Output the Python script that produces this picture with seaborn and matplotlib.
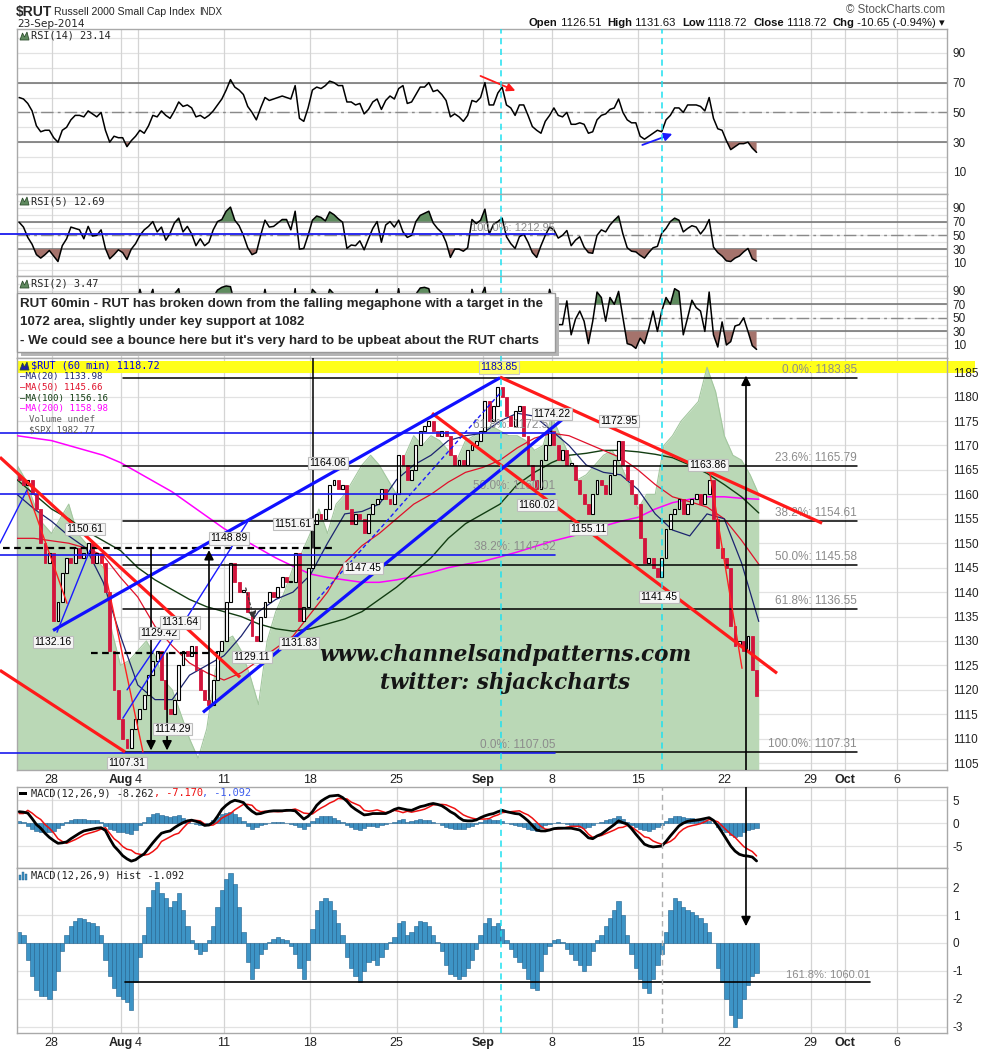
import numpy as np
import matplotlib
matplotlib.use("Agg")
import matplotlib.pyplot as plt
import matplotlib.transforms as mtransforms
from matplotlib.patches import Rectangle, Polygon
import seaborn as sns

# ---------------- values ----------------
# hourly RUT closes, sampled 4 per trading day (Jul 24 .. Sep 23)
closes = [
    1163, 1162, 1163, 1160,  1157, 1150, 1146, 1148,  1134, 1138, 1144, 1147,
    1146, 1149, 1147, 1148,  1150, 1146, 1148, 1146,  1140, 1128, 1120, 1114,
    1110, 1108, 1112, 1114,  1116, 1119, 1123, 1126,  1128, 1122, 1116, 1115,
    1118, 1125, 1128, 1127,  1129, 1124, 1120, 1118,  1117, 1122, 1128, 1130,
    1138, 1146, 1142, 1140,  1140, 1136, 1131, 1130,  1135, 1138, 1140, 1139,
    1141, 1143, 1142, 1142,  1148, 1134, 1137, 1145,  1154, 1156, 1155, 1157,
    1162, 1163, 1161, 1162,  1157, 1154, 1156, 1155,  1152, 1156, 1158, 1159,
    1161, 1159, 1158, 1160,  1168, 1166, 1163, 1165,  1170, 1173, 1174, 1175,
    1173, 1172, 1173, 1172,  1168, 1166, 1167, 1166,  1169, 1170, 1171, 1173,
    1179, 1175, 1178, 1182,  1180, 1176, 1174, 1177,  1178, 1172, 1166, 1163,
    1161, 1167, 1170, 1173,  1170, 1167, 1169, 1166,  1166, 1163, 1160, 1158,
    1156, 1160, 1163, 1162,  1160, 1164, 1167, 1171,  1166, 1163, 1160, 1158,
    1151, 1146, 1147, 1145,  1143, 1147, 1153, 1156,  1157, 1159, 1156, 1158,
    1159, 1160, 1158, 1160,  1163, 1155, 1149, 1147,  1145, 1133, 1129, 1130,
    1128, 1131, 1124, 1118.72,
]
first_open = 1164

# $SPX overlay (drawn on the price scale), 2 per day
spx_area = [
    1166, 1163, 1158, 1154, 1152, 1155, 1158, 1152, 1150, 1147,
    1145, 1132, 1125, 1126, 1128, 1130, 1127, 1122, 1120, 1115,
    1110, 1106, 1112, 1124, 1130, 1131, 1128, 1123, 1117, 1130,
    1136, 1140, 1145, 1148, 1152, 1157, 1152, 1158, 1160, 1163,
    1166, 1168, 1166, 1163, 1160, 1168, 1172, 1170, 1172, 1171,
    1169, 1167, 1171, 1172, 1173, 1174, 1173, 1172, 1172, 1171,
    1169, 1170, 1176, 1172, 1168, 1163, 1164, 1166, 1168, 1169,
    1166, 1162, 1157, 1160, 1160, 1170, 1172, 1175, 1177, 1179,
    1186, 1181, 1172, 1168, 1167, 1164, 1160,
]

# moving averages, one value per trading-day boundary
ma20 = [1160, 1157, 1154.5, 1151.5, 1149, 1142, 1131, 1121, 1118, 1118,
        1123, 1125, 1127, 1131, 1136, 1138.5, 1140, 1143.5, 1150, 1156,
        1156.5, 1158, 1163, 1166, 1168, 1171, 1172, 1172.5, 1175, 1176.6,
        1176, 1173, 1170, 1166, 1164.5, 1164, 1161, 1156, 1152.7, 1151.5,
        1156, 1155, 1146, 1134]
ma50 = [1151, 1151, 1150.5, 1150, 1149, 1147.5, 1143, 1139, 1133, 1129,
        1125.5, 1123.5, 1122, 1123.5, 1126, 1128.5, 1131, 1135.5, 1140, 1146,
        1149.5, 1152, 1155, 1158, 1160, 1162.5, 1164.5, 1165.5, 1167, 1169.5,
        1171.5, 1172.5, 1172, 1170.5, 1169, 1167.5, 1165, 1162, 1159.5, 1158.5,
        1157.4, 1155, 1150.6, 1145.7]
ma100 = [1163, 1160, 1157, 1155, 1152.5, 1150.5, 1148.5, 1145, 1142.5, 1140.5,
         1138.5, 1137, 1136, 1135, 1133.5, 1132.5, 1132, 1132.5, 1133.5, 1134.5,
         1136, 1138.5, 1141, 1144, 1147, 1151, 1154, 1156, 1158, 1162,
         1164.5, 1166.5, 1168, 1168.4, 1169, 1169, 1168.7, 1168.2, 1167.5, 1166,
         1164.3, 1162, 1159.5, 1156.2]
ma200 = [1172, 1171.5, 1171, 1170, 1169, 1168, 1166.5, 1164.5, 1162.5, 1160.5,
         1158, 1155.5, 1153, 1151, 1149, 1147, 1145.3, 1143.7, 1143, 1142.5,
         1142, 1142, 1142.5, 1143.2, 1144, 1145, 1145.7, 1146.3, 1147.2, 1148.2,
         1149.3, 1150.4, 1151.3, 1152.2, 1153.5, 1154.5, 1155.3, 1157, 1158.3, 1159,
         1159.5, 1159.5, 1159.2, 1159]

rsi14 = [60, 59, 56, 51, 41, 37, 38, 38, 33, 30,
         38, 40, 45, 48, 48, 47, 51, 49, 47, 50,
         38, 30, 34, 33, 33, 27, 31, 34, 38, 36,
         41, 48, 47, 51, 48, 46, 51, 57, 54, 55,
         53, 47, 48, 46, 48, 51, 55, 59, 65, 72,
         67, 65, 62, 54, 50, 45, 53, 60, 58, 59,
         60, 61, 60, 59, 68, 46, 44, 53, 65, 67,
         66, 68, 71, 70, 68, 68, 57, 57, 55, 56,
         49, 52, 57, 59, 52, 58, 61, 59, 66, 68,
         56, 57, 62, 67, 67, 70, 64, 65, 62, 58,
         47, 49, 47, 44, 48, 58, 57, 60, 70, 55,
         55, 63, 67, 55, 53, 48, 55, 55, 48, 40.5,
         38, 36, 44, 48, 53, 48, 47, 50, 42, 42,
         43, 42, 36, 37, 45, 48, 49, 52, 53, 59,
         50, 45, 43, 43, 34, 32, 34, 36, 38, 37,
         45, 48, 53, 53, 50, 55, 55, 55, 54, 51,
         60, 46, 39, 38, 31, 25, 27, 29, 29, 30,
         26, 23.14]

rsi5 = [69, 62, 47, 37, 22, 17, 22, 28, 20, 12,
        35, 45, 62, 60, 58, 45, 63, 49, 50, 58,
        31, 16, 22, 29, 25, 15, 30, 38, 50, 58,
        63, 70, 55, 62, 43, 53, 68, 75, 55, 63,
        52, 35, 45, 35, 40, 58, 70, 73, 85, 91,
        72, 64, 50, 32, 22, 25, 50, 72, 62, 63,
        68, 73, 73, 58, 85, 30, 31, 50, 72, 78,
        76, 71, 84, 80, 74, 69, 31, 36, 35, 42,
        29, 45, 60, 70, 40, 65, 70, 62, 72, 55,
        47, 50, 70, 79, 82, 85, 68, 60, 54, 40,
        18, 30, 30, 27, 32, 73, 67, 72, 88, 52,
        66, 70, 75, 48, 38, 31, 48, 52, 40, 25,
        18, 35, 50, 62, 58, 46, 50, 57, 35, 43,
        48, 33, 25, 24, 50, 58, 55, 65, 72, 78,
        52, 32, 27, 26, 21, 17, 25, 32, 34, 53,
        60, 70, 75, 72, 55, 60, 64, 62, 52, 60,
        73, 33, 25, 20, 13, 12, 17, 20, 26, 31,
        16, 12.69]

rsi2 = [60, 45, 20, 10, 5, 15, 30, 40, 12, 5,
        50, 65, 80, 70, 60, 40, 75, 45, 50, 70,
        15, 5, 30, 40, 25, 4, 40, 60, 92, 70,
        75, 92, 50, 70, 30, 60, 85, 93, 55, 70,
        50, 20, 45, 25, 40, 80, 91, 95, 97, 96,
        70, 55, 35, 12, 8, 20, 60, 92, 60, 65,
        75, 80, 78, 50, 93, 10, 20, 60, 92, 85,
        80, 70, 92, 85, 70, 65, 10, 30, 25, 45,
        15, 50, 75, 92, 30, 70, 80, 60, 93, 50,
        35, 50, 85, 94, 95, 93, 65, 55, 45, 25,
        5, 30, 28, 20, 35, 92, 70, 80, 95, 45,
        70, 80, 85, 35, 25, 15, 45, 55, 30, 10,
        5, 30, 55, 92, 70, 40, 40, 75, 25, 48,
        60, 45, 12, 45, 88, 80, 45, 80, 70, 89,
        50, 12, 10, 5, 20, 12, 34, 60, 30, 60,
        80, 70, 93, 89, 25, 50, 76, 65, 60, 30,
        88, 25, 7, 44, 10, 15, 38, 40, 50, 30,
        9, 3.47]

macd_line = [2.5, 2.4, 2.2, 1.0, -0.3, -1.1, -2.2, -3.1, -3.8, -4.4,
             -4.3, -4.1, -3.4, -2.8, -2.2, -1.7, -1.5, -1.3, -1.1, -1.0,
             -1.6, -3.4, -5.0, -6.0, -7.1, -7.8, -8.3, -8.0, -7.3, -6.7,
             -5.5, -4.3, -3.2, -2.2, -1.9, -1.7, -1.0, -0.4, 0.1, 0.5,
             0.65, 0.4, 0.1, -0.5, -0.4, 0.2, 1.5, 3.0, 3.9, 4.6,
             5.0, 4.8, 4.5, 3.4, 2.6, 2.0, 2.1, 2.4, 2.6, 2.7,
             2.7, 2.7, 2.8, 2.8, 2.7, 1.8, 0.9, 1.5, 2.5, 3.9,
             4.8, 5.4, 5.9, 6.0, 6.1, 5.6, 4.8, 3.7, 3.0, 2.4,
             1.8, 1.9, 2.1, 2.1, 2.1, 2.1, 2.5, 3.0, 3.3, 3.1,
             2.9, 2.8, 3.2, 3.6, 3.8, 4.1, 4.3, 4.1, 3.8, 3.2,
             2.5, 2.0, 1.2, 0.6, 0.5, 0.5, 0.7, 1.2, 1.6, 1.9,
             2.1, 2.5, 2.8, 2.5, 2.3, 2.1, 2.0, 1.3, 0.5, -0.5,
             -1.5, -1.7, -1.7, -1.5, -1.2, -1.1, -1.1, -1.1, -1.1, -1.3,
             -1.5, -2.3, -3.2, -3.4, -2.8, -2.4, -1.7, -1.0, -0.3, 0.5,
             0.1, -0.2, -1.2, -2.4, -3.5, -4.6, -5.0, -5.2, -5.1, -5.0,
             -4.0, -2.8, -1.7, -0.6, 0.0, 0.4, 0.55, 0.65, 0.8, 1.0,
             1.2, 0.6, -0.6, -2.0, -3.5, -5.0, -6.1, -6.8, -7.1, -7.2,
             -7.4, -8.262]

macd_hist = [0.4, 0.3, -0.6, -1.2, -1.7, -1.9, -1.9, -2.0, -1.7, -1.0,
             -0.3, 0.3, 0.6, 0.8, 0.9, 0.85, 0.75, 0.7, 0.6, 0.3,
             -0.6, -1.2, -1.6, -1.9, -2.0, -2.1, -2.4, -1.4, -0.5, 0.3,
             1.3, 1.9, 2.2, 1.8, 1.6, 1.3, 1.5, 1.8, 1.2, 0.6,
             0.1, -0.2, -0.4, -0.3, 0.1, 0.6, 1.3, 1.9, 2.3, 2.5,
             2.1, 1.3, 0.4, -0.7, -1.3, -0.9, -0.4, -0.2, 0.05, 0.15,
             0.2, 0.15, 0.1, -0.1, -0.4, -0.9, -1.3, -0.6, 0.5, 1.2,
             1.5, 1.6, 1.5, 1.2, 0.7, 0.3, -0.5, -0.9, -1.2, -1.4,
             -1.0, -0.7, -0.6, -0.8, -0.5, -0.2, 0.05, 0.2, 0.7, 0.8,
             0.3, 0.4, 0.6, 0.8, 0.75, 0.6, 0.3, 0.05, -0.3, -0.8,
             -1.1, -1.2, -1.3, -1.2, -0.9, -0.6, -0.2, 0.3, 0.7, 0.9,
             0.6, 0.7, 0.5, 0.1, -0.2, -0.5, -0.7, -0.9, -1.3, -1.6,
             -1.7, -1.0, -0.4, -0.1, 0.1, 0.15, 0.05, -0.2, -0.4, -0.6,
             -0.8, -1.0, -0.8, -0.3, 0.1, 0.3, 0.6, 0.9, 1.2, 1.5,
             1.0, 0.3, -0.4, -0.9, -1.3, -1.6, -1.8, -1.3, -0.8, -0.4,
             0.4, 1.2, 1.6, 1.5, 1.3, 1.2, 1.1, 1.0, 0.9, 0.7,
             0.4, 0.0, -0.9, -1.4, -2.0, -2.6, -3.0, -2.7, -2.0, -1.5,
             -1.2, -1.092]

# date axis (trading-day index) and labels
date_ticks = [2, 6, 7, 12, 17, 22, 27, 31, 36, 41, 46, 48, 51]
date_labels = ['28', 'Aug', '4', '11', '18', '25', 'Sep', '8', '15', '22', '29', 'Oct', '6']

# price labels on selected swing points: (text, day, price)
swing_labels = [
    ('1150.61', 3.94, 1152.9), ('1132.16', 2.09, 1129.8), ('1148.89', 12.29, 1151.0),
    ('1129.42', 8.23, 1131.6), ('1131.64', 9.45, 1133.8), ('1114.29', 8.99, 1112.0),
    ('1129.11', 13.62, 1126.7), ('1107.31', 6.38, 1105.0), ('1151.61', 16.0, 1153.9),
    ('1131.83', 16.35, 1129.6), ('1164.06', 18.03, 1166.4), ('1147.45', 20.06, 1144.9),
    ('1174.22', 31.01, 1176.4), ('1160.02', 30.14, 1157.8), ('1172.95', 34.9, 1175.0),
    ('1155.11', 33.1, 1152.9), ('1141.45', 37.22, 1139.0), ('1163.86', 40.06, 1166.0),
]

fib_right = [(1183.85, '0.0%: 1183.85'), (1165.79, '23.6%: 1165.79'),
             (1154.61, '38.2%: 1154.61'), (1145.58, '50.0%: 1145.58'),
             (1136.55, '61.8%: 1136.55'), (1107.31, '100.0%: 1107.31')]
fib_left = [(1172.51, '61.8%: 1172.51'), (1160.01, '50.0%: 1160.01'),
            (1147.52, '38.2%: 1147.52'), (1107.05, '0.0%: 1107.05')]

# hand-drawn trend lines ((day, price), (day, price))
red_thick = [((-0.99, 1167.6), (12.93, 1122.6)), ((-0.99, 1124.0), (6.26, 1107.3)),
             ((28.0, 1184.0), (46.67, 1154.1)), ((24.06, 1176.6), (44.06, 1123.4))]
red_thin = [((0.58, 1160.9), (2.9, 1137.7)), ((4.93, 1147.1), (7.3, 1107.3)),
            ((40.17, 1164.3), (42.03, 1124.4))]
blue_thick = [((2.09, 1132.16), (28.0, 1183.85)), ((10.78, 1115.4), (32.06, 1176.6))]
blue_thin = [((-0.99, 1150.0), (0.58, 1160.9)), ((2.32, 1131.8), (4.23, 1148.6)),
             ((6.14, 1114.2), (13.5, 1155.1)), ((6.38, 1120.0), (9.04, 1133.9))]

# ---------------- figure ----------------
sns.set_theme(style="white")
plt.rcParams['font.family'] = ['Liberation Sans', 'DejaVu Sans']

W, H = 990, 1051
fig = plt.figure(figsize=(W / 100, H / 100), dpi=100)
fig.patch.set_facecolor('white')
MONO = 'DejaVu Sans Mono'
NARROW = ['Liberation Sans Narrow', 'Liberation Sans', 'DejaVu Sans']


def fx(px):
    return px / W


def fy(py):
    return 1 - py / H


def panel(top, bot):
    return fig.add_axes([17 / W, 1 - bot / H, 930 / W, (bot - top) / H])


XMAX = 930 / 17.25
xq = (np.arange(len(closes)) + 0.5) / 4
xd = np.arange(len(ma20))
xh = np.arange(len(spx_area)) / 2
CYAN = '#1ee0f0'


def base(ax, ylo, yhi, grid_vals, tick_vals, tick_labels=None):
    ax.set_xlim(0, XMAX)
    ax.set_ylim(ylo, yhi)
    ax.set_facecolor('white')
    for v in grid_vals:
        ax.axhline(v, color='#e2e2e2', lw=0.9, zorder=0)
    for d in date_ticks:
        ax.axvline(d, color='#d4d4d4', lw=0.9, zorder=0)
    ax.set_xticks(date_ticks)
    ax.set_xticklabels([])
    ax.yaxis.tick_right()
    ax.set_yticks(tick_vals)
    ax.set_yticklabels(tick_labels or [str(v) for v in tick_vals])
    ax.tick_params(axis='both', length=0, labelsize=8.5, pad=4, colors='#222222')
    for s in ax.spines.values():
        s.set_color('#a9a9a9')
        s.set_linewidth(1)


def date_labels_on(ax):
    ax.set_xticklabels(date_labels)
    ax.tick_params(axis='x', labelbottom=True, pad=3, labelsize=9)
    for t in ax.get_xticklabels():
        t.set_family(NARROW)
        if t.get_text() in ('Aug', 'Sep', 'Oct'):
            t.set_fontweight('bold')


def icon(px, py, color='#5f8a5f'):
    pts = [(px, py + 4), (px + 2.5, py - 3), (px + 4.5, py + 1), (px + 7, py - 4), (px + 9, py + 4)]
    fig.add_artist(Polygon([(fx(a), fy(b)) for a, b in pts], closed=True,
                           transform=fig.transFigure, fc=color, ec='#2f4f2f', lw=0.6))


def rsi_panel(ax, vals):
    v = np.array(vals, dtype=float)
    ax.fill_between(xq, 70, v, where=v > 70, interpolate=True, color='#5f8c5f', lw=0, zorder=2)
    ax.fill_between(xq, 30, v, where=v < 30, interpolate=True, color='#a5736c', lw=0, zorder=2)
    ax.axhline(70, color='#6e6e6e', lw=1.1, zorder=1)
    ax.axhline(30, color='#6e6e6e', lw=1.1, zorder=1)
    ax.axhline(50, color='#8a8a8a', lw=1, ls=(0, (9, 3, 2, 3)), zorder=1)
    sns.lineplot(x=xq, y=v, ax=ax, color='black', lw=1.1, zorder=3)
    ax.set_xlabel('')
    ax.set_ylabel('')


# ---- RSI(14)
ax1 = panel(29, 194)
base(ax1, -4.8, 106, range(0, 101, 10), [10, 30, 50, 70, 90])
rsi_panel(ax1, rsi14)
ax1.annotate('', xy=(29.04, 63.8), xytext=(26.72, 75.2),
             arrowprops=dict(arrowstyle='-|>', color='#ff1a1a', lw=1.3, mutation_scale=12))
ax1.annotate('', xy=(38.14, 36.2), xytext=(36.1, 27.5),
             arrowprops=dict(arrowstyle='-|>', color='#1a1aff', lw=1.3, mutation_scale=12))

# ---- RSI(5)
ax2 = panel(194, 276)
base(ax2, -9, 110, range(0, 101, 10), [10, 30, 50, 70, 90])
rsi_panel(ax2, rsi5)
ax2.plot([-0.99, 31.2], [51.5, 51.5], color='#1a1aee', lw=1.3, clip_on=False, zorder=4)
ax2.text(31.2, 53, '100.0%: 1212.95', ha='right', va='bottom', fontsize=8, color='#8c8c8c', zorder=4)

# ---- RSI(2)
ax3 = panel(276, 358)
base(ax3, -9.2, 111.7, range(0, 101, 10), [10, 30, 50, 70, 90])
rsi_panel(ax3, rsi2)

# ---- price panel
ax = panel(358, 770)
base(ax, 1103.6, 1187.9, range(1105, 1186, 5), list(range(1105, 1186, 5)))
blend = mtransforms.blended_transform_factory(ax.transAxes, ax.transData)
ax.add_patch(Rectangle((0, 1184.8), 958 / 930, 2.45, transform=blend, fc='#ffff1a',
                       ec='none', clip_on=False, zorder=0.5))
ax.fill_between(xh, 1100, spx_area, color='#bad8b6', lw=0, zorder=1)
sns.lineplot(x=xh, y=spx_area, ax=ax, color='#a3c79f', lw=0.8, zorder=1.2)

sns.lineplot(x=xd, y=ma200, ax=ax, color='#ff00ff', lw=1.1, zorder=3)
sns.lineplot(x=xd, y=ma100, ax=ax, color='#123d12', lw=1.0, zorder=3)
sns.lineplot(x=xd, y=ma50, ax=ax, color='#e0102a', lw=0.9, zorder=3)
sns.lineplot(x=xd, y=ma20, ax=ax, color='#1c2470', lw=0.9, zorder=3)
ax.set_xlabel('')
ax.set_ylabel('')

c = np.array(closes, dtype=float)
o = np.r_[first_open, c[:-1]]
dn = c < o
ax.bar(xq[dn], (o - c)[dn], bottom=c[dn], width=0.17, color='#d3143c',
       edgecolor='#d3143c', lw=0.6, zorder=4)
ax.bar(xq[~dn], np.maximum(c - o, 0.35)[~dn], bottom=o[~dn], width=0.17, color='white',
       edgecolor='black', lw=0.8, zorder=4)

# horizontal levels
for lvl, txt in fib_right:
    ax.plot([6.16, 48.7], [lvl, lvl], color='black', lw=1.1, zorder=5)
    ax.text(48.7, lvl + 0.4, txt, ha='right', va='bottom', fontsize=8.5, color='#8c8c8c', zorder=5)
for lvl, txt in fib_left:
    ax.plot([-0.99, 31.2], [lvl, lvl], color='#1a1aee', lw=1.2, clip_on=False, zorder=5)
    ax.text(31.2, lvl + 0.4, txt, ha='right', va='bottom', fontsize=8.5, color='#8c8c8c', zorder=5)
ax.plot([-0.81, 18.32], [1149, 1149], color='black', lw=1.6, ls=(0, (3, 2)), clip_on=False, zorder=5)
ax.plot([4.29, 11.65], [1127.5, 1127.5], color='black', lw=1.6, ls=(0, (3, 2)), zorder=5)
ax.plot([17.16, 17.16], [1187.9, 1149], color='black', lw=1.1, zorder=5)

for (a, b) in red_thick:
    ax.plot([a[0], b[0]], [a[1], b[1]], color='#ff1a1a', lw=2.3, clip_on=False, zorder=5,
            solid_capstyle='butt')
for (a, b) in red_thin:
    ax.plot([a[0], b[0]], [a[1], b[1]], color='#ff2020', lw=1.0, zorder=5)
for (a, b) in blue_thick:
    ax.plot([a[0], b[0]], [a[1], b[1]], color='#1010ff', lw=2.3, zorder=5, solid_capstyle='butt')
for (a, b) in blue_thin:
    ax.plot([a[0], b[0]], [a[1], b[1]], color='#1a1aff', lw=1.0, clip_on=False, zorder=5)
ax.plot([17.39, 28.0], [1138.4, 1180.7], color='#1a1aff', lw=1.0, ls=(0, (3, 2)), zorder=5)


def arrow(axx, x, y0, y1, ls='-', lw=1.2):
    axx.annotate('', xy=(x, y1), xytext=(x, y0), zorder=7,
                 arrowprops=dict(arrowstyle='-|>', color='black', lw=lw, ls=ls,
                                 mutation_scale=14, shrinkA=0, shrinkB=0))


arrow(ax, 7.77, 1149, 1107.6)
arrow(ax, 8.70, 1127.5, 1107.6)
arrow(ax, 11.13, 1118, 1148.6)
arrow(ax, 42.26, 1166, 1184.3)
ax.plot([42.26, 42.26], [1166, 1103.6], color='black', lw=1.2, zorder=7)
ax.annotate('', xy=(13.8, 1133.8), xytext=(13.22, 1141.4), zorder=7,
            arrowprops=dict(arrowstyle='-|>', color='#333333', lw=0.9, ls=(0, (2, 2)),
                            mutation_scale=12))

for txt, d, p in swing_labels:
    ax.text(d, p, txt, fontsize=7.5, ha='center', va='center', color='black', zorder=8,
            bbox=dict(boxstyle='square,pad=0.12', fc='#f6f6f6', ec='#bdbdbd', lw=0.8))
ax.text(27.94, 1186.0, '1183.85', fontsize=7.5, ha='center', va='center', color='#0000cc',
        zorder=8, bbox=dict(boxstyle='square,pad=0.12', fc='#ffff66', ec='#c8c8c8', lw=0.8))

date_labels_on(ax)

# ---- MACD
axm = panel(787, 868)
base(axm, -9.8, 7.9, [-5, 0, 5], [5, 0, -5], ['5', '0', '-5'])
mh = np.array(macd_hist)
ml = np.array(macd_line)
axm.bar(xq, mh, width=0.25, color='#3d8fc0', edgecolor='#24628f', lw=0.4, zorder=2)
sns.lineplot(x=xq, y=ml - mh, ax=axm, color='#ee1111', lw=1.1, zorder=3)
sns.lineplot(x=xq, y=ml, ax=axm, color='black', lw=2.0, zorder=4)
axm.axvline(42.26, color='black', lw=1.2, zorder=7)
axm.set_xlabel('')
axm.set_ylabel('')

# ---- MACD histogram
axh = panel(868, 1033)
base(axh, -3.23, 2.69, [-3, -2, -1, 0, 1, 2], [2, 1, 0, -1, -2, -3])
axh.bar(xq, mh, width=0.25, color='#3d94c6', edgecolor='#1f5f8c', lw=0.4, zorder=2)
axh.plot([6.26, 49.45], [-1.41, -1.41], color='black', lw=1.2, zorder=5)
axh.text(49.45, -1.33, '161.8%: 1060.01', ha='right', va='bottom', fontsize=8,
         color='#8c8c8c', family=NARROW, zorder=5)
arrow(axh, 42.26, 2.69, 0.6)
date_labels_on(axh)

# cyan marker lines
for a in (ax1, ax2, ax3, ax, axm, axh):
    a.axvline(28.06, color=CYAN, lw=1.1, ls=(0, (4, 3)), zorder=6)
for a in (ax1, ax2, ax3, ax):
    a.axvline(37.4, color=CYAN, lw=1.1, ls=(0, (4, 3)), zorder=6)
for a in (axm, axh):
    a.axvline(37.4, color='#b0b0b0', lw=1.0, ls=(0, (4, 3)), zorder=6)

# ---------------- texts ----------------
fig.text(fx(16), fy(12), '$RUT', fontsize=10, fontweight='bold', va='center')
fig.text(fx(54), fy(12), 'Russell 2000 Small Cap Index', fontsize=7.6, va='center')
fig.text(fx(199), fy(12), 'INDX', fontsize=7, va='center')
fig.text(fx(17), fy(24), '23-Sep-2014', fontsize=7.6, va='center', family='DejaVu Sans')
fig.text(fx(945), fy(10), '\u00a9 StockCharts.com', fontsize=8.3, ha='right', va='center',
         color='#555555')

renderer = fig.canvas.get_renderer()
pieces = [('Open', True), (' 1126.51  ', False), ('High', True), (' 1131.63  ', False),
          ('Low', True), (' 1118.72  ', False), ('Close', True), (' 1118.72  ', False),
          ('Chg', True), (' -10.65 (-0.94%) ', False), ('\u25be', False)]
xcur = 945
for s, b in reversed(pieces):
    t = fig.text(fx(xcur), fy(23), s, ha='right', va='center', fontsize=8.1,
                 fontweight='bold' if b else 'normal', color='#111111')
    xcur -= t.get_window_extent(renderer=renderer).width

icon(20, 36)
fig.text(fx(31), fy(36), 'RSI(14) 23.14', family=MONO, fontsize=7.4, va='center')
icon(20, 201)
fig.text(fx(31), fy(201), 'RSI(5) 12.69', family=MONO, fontsize=7.4, va='center')
icon(20, 284)
fig.text(fx(31), fy(284), 'RSI(2) 3.47', family=MONO, fontsize=7.4, va='center')

# note box over the RSI(2) panel
fig.add_artist(Rectangle((fx(21), fy(356)), fx(538), 59 / H, transform=fig.transFigure,
                         fc='#b5b5b5', ec='none', zorder=9))
fig.add_artist(Rectangle((fx(17), fy(352)), fx(538), 59 / H, transform=fig.transFigure,
                         fc='white', ec='#9a9a9a', lw=1, zorder=10))
note = ["RUT 60min - RUT has broken down from the falling megaphone with a target in the",
        "1072 area, slightly under key support at 1082",
        "- We could see a bounce here but it's very hard to be upbeat about the RUT charts"]
for i, line in enumerate(note):
    fig.text(fx(20), fy(304 + 18.5 * i), line, fontsize=9.6, fontweight='bold', va='center',
             zorder=11)

# price panel legend
icon(20, 366, color='#2020aa')
fig.text(fx(31), fy(366), '$RUT (60 min) 1118.72', family=MONO, fontsize=7.4, va='center',
         color='#0000ee')
legend_rows = [('\u2014MA(20) 1133.98', '#1c2470'), ('\u2014MA(50) 1145.66', '#e0102a'),
               ('\u2014MA(100) 1156.16', '#123d12'), ('\u2014MA(200) 1158.98', '#ff00ff'),
               ('Volume undef', '#666666'), ('$SPX 1982.77', '#555555')]
for i, (txt, col) in enumerate(legend_rows):
    xx = 20 if txt.startswith('\u2014') else 29
    fig.text(fx(xx), fy(377 + 10.6 * i), txt, family=MONO, fontsize=6.6, va='center', color=col)

# watermark
fig.text(fx(505), fy(655), 'www.channelsandpatterns.com', family='DejaVu Serif',
         style='italic', fontweight='bold', fontsize=15.5, ha='center', va='center', color='#151515')
fig.text(fx(505), fy(683), 'twitter: shjackcharts', family='DejaVu Serif',
         style='italic', fontweight='bold', fontsize=15.5, ha='center', va='center', color='#151515')

# MACD labels
fig.add_artist(Rectangle((fx(19), fy(795)), 8 / W, 3 / H, transform=fig.transFigure,
                         fc='black', ec='none'))
xcur = 31
for s, col in [('MACD(12,26,9) -8.262', '#222222'), (', -7.170', '#ee1111'),
               (', -1.092', '#4060ee')]:
    t = fig.text(fx(xcur), fy(793), s, family=MONO, fontsize=7.4, va='center', color=col)
    xcur += t.get_window_extent(renderer=renderer).width
for k, hgt in enumerate([5, 8, 6]):
    fig.add_artist(Rectangle((fx(19 + 3 * k), fy(880)), 2 / W, hgt / H,
                             transform=fig.transFigure, fc='#3d8fc0', ec='#1f5f8c', lw=0.3))
fig.text(fx(31), fy(876), 'MACD(12,26,9) Hist -1.092', family=MONO, fontsize=7.4,
         va='center', color='#222222')

fig.savefig('out.png', dpi=100, facecolor='white')
